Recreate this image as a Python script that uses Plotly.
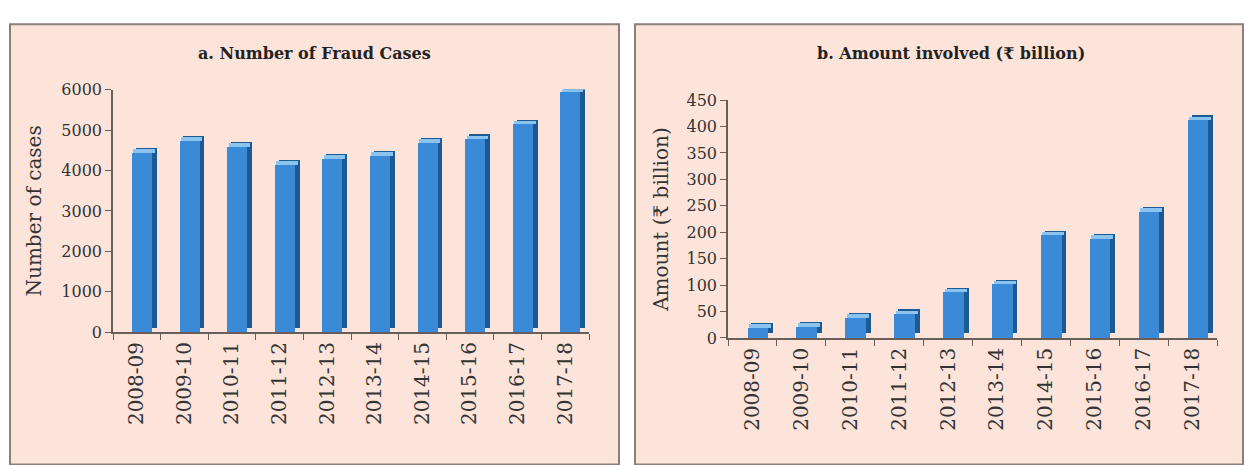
import plotly.graph_objects as go

W, H = 1247, 465

years = ["2008-09", "2009-10", "2010-11", "2011-12", "2012-13",
         "2013-14", "2014-15", "2015-16", "2016-17", "2017-18"]
fraud_cases = [4450, 4750, 4600, 4150, 4300, 4380, 4700, 4780, 5150, 5950]
amount_bn = [19, 21, 38, 45, 86, 101, 194, 187, 239, 412]

title_a = "a. Number of Fraud Cases"
title_b = "b. Amount involved (₹ billion)"
ytitle_a = "Number of cases"
ytitle_b = "Amount (₹ billion)"

FRONT = "#3a8ad8"
SIDE = "#1d5a92"
TOP = "#8cc4f0"
PINK = "#fce4db"
BORDER = "#8c7f78"
AXIS = "#6a5d58"
TXT = "#333333"
FONT = "DejaVu Serif"

fig = go.Figure()


def add_bars(vals, depth, xa, ya):
    n = len(vals)
    common = dict(x=years, xaxis=xa, yaxis=ya, showlegend=False, hoverinfo="skip")
    # side face (shifted up-right)
    fig.add_trace(go.Bar(y=vals, base=[depth] * n, offset=-0.02, width=0.44,
                         marker=dict(color=SIDE, line=dict(width=0)), **common))
    # top face
    fig.add_trace(go.Bar(y=[depth * 0.75] * n, base=vals, offset=-0.07, width=0.45,
                         marker=dict(color=TOP, line=dict(width=0)), **common))
    # front face
    fig.add_trace(go.Bar(y=vals, offset=-0.1, width=0.42,
                         marker=dict(color=FRONT, line=dict(width=0)), **common))


add_bars(fraud_cases, 120, "x", "y")
add_bars(amount_bn, 9, "x2", "y2")


def px(v):
    return v / W


def py(v):
    return 1 - v / H


# panel backgrounds
for x0, x1, y0 in [(10, 619, 16), (635, 1243, 16)]:
    fig.add_shape(type="rect", xref="paper", yref="paper",
                  x0=px(x0), x1=px(x1), y0=py(y0), y1=py(H + 10),
                  fillcolor=PINK, line=dict(color=BORDER, width=2), layer="below")

xcommon = dict(type="category", showgrid=False, zeroline=False, showline=True,
               linecolor=AXIS, linewidth=1.5, ticks="outside", ticklen=6,
               tickcolor=AXIS, tickwidth=1.2, tickson="boundaries", tickangle=-90,
               tickfont=dict(family=FONT, size=20, color=TXT), range=[-0.5, 9.5],
               fixedrange=True)
ycommon = dict(showgrid=False, zeroline=False, showline=True, linecolor=AXIS,
               linewidth=1.5, ticks="outside", ticklen=6, tickcolor=AXIS,
               tickwidth=1.2, tickfont=dict(family=FONT, size=16, color=TXT),
               fixedrange=True)

fig.update_layout(
    width=W, height=H,
    margin=dict(l=0, r=0, t=0, b=0),
    paper_bgcolor="white",
    plot_bgcolor="rgba(0,0,0,0)",
    barmode="overlay",
    bargap=0,
    xaxis=dict(domain=[px(113), px(589)], anchor="y", **xcommon),
    yaxis=dict(domain=[py(337), py(84)], anchor="x", range=[0, 6000], dtick=1000,
               title=dict(text=ytitle_a, font=dict(family=FONT, size=20, color=TXT),
                          standoff=14),
               **ycommon),
    xaxis2=dict(domain=[px(728), px(1217)], anchor="y2", **xcommon),
    yaxis2=dict(domain=[py(343), py(95)], anchor="x2", range=[0, 450], dtick=50,
                title=dict(text=ytitle_b, font=dict(family=FONT, size=20, color=TXT),
                           standoff=12),
                **ycommon),
    annotations=[
        dict(text="<b>" + title_a + "</b>", xref="paper", yref="paper",
             x=px(314), y=py(46), showarrow=False, xanchor="center", yanchor="middle",
             font=dict(family=FONT, size=16, color="#222222")),
        dict(text="<b>" + title_b + "</b>", xref="paper", yref="paper",
             x=px(951), y=py(46), showarrow=False, xanchor="center", yanchor="middle",
             font=dict(family=FONT, size=16, color="#222222")),
    ],
)

fig.write_html("out.html")
